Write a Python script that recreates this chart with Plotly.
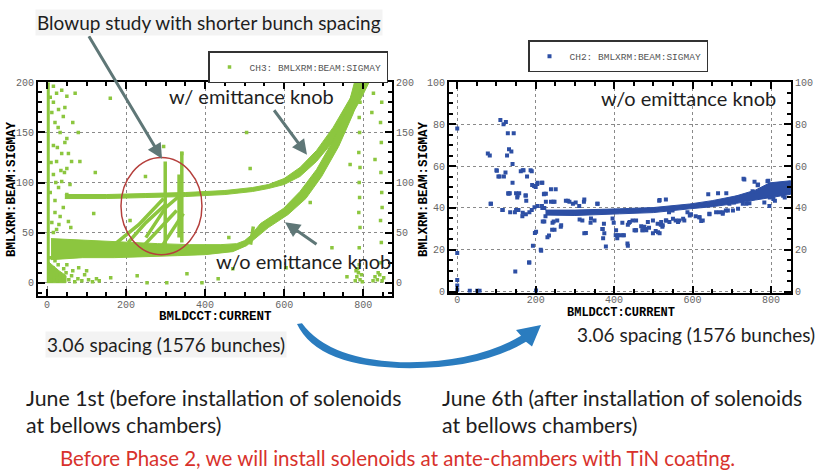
import plotly.graph_objects as go

W, H = 818, 473

GREEN = "#8cc63f"
BLUE = "#2d4fa4"
ARROW_GRAY = "#5f7777"
TEXT_DARK = "#1e1e1e"
RED_TEXT = "#d8322c"
TICK_FONT = dict(family="Liberation Mono", size=10, color="#666666")

# ---------------- tick values ----------------
L_TICKS_X = [0, 200, 400, 600, 800]
L_TICKS_Y = [0, 50, 100, 150, 200]
R_TICKS_X = [0, 200, 400, 600, 800]
R_TICKS_Y = [0, 20, 40, 60, 80, 100]

# ---------------- left panel (June 1st) ----------------
# "w/ emittance knob" band: upper edge then lower edge
UP_BAND_X = [45, 150, 250, 350, 450, 520, 560, 600, 640, 682, 724, 767, 785,
             815, 795, 762, 724, 682, 640, 600, 560, 520, 450, 350, 250, 150, 45]
UP_BAND_Y = [88, 88, 89, 90, 92, 95, 98, 104, 115, 132, 155, 184, 200,
             200, 184, 161, 141, 121, 106, 98, 94, 91, 88, 86, 85, 84, 84]

# "w/o emittance knob" band
LOW_BAND_X = [10, 60, 120, 200, 280, 360, 440, 480, 500, 515, 540, 598, 640, 682, 724, 762, 778,
              798, 775, 738, 695, 655, 610, 560, 530, 505, 470, 400, 330, 250, 170, 90, 10]
LOW_BAND_Y = [44, 43, 42, 40, 39, 38, 38, 39, 42, 47, 59, 74, 91, 113, 142, 176, 200,
              200, 169, 136, 106, 84, 68, 55, 45, 37, 31, 28, 27, 26, 25, 25, 23]

# blow-up streaks inside the circle
BLOW_X = [170, 232, 295, None, 235, 280, 328, None, 290, 345, None, 205, 250, 300, None,
          250, 300, 345, None, 515, 522]
BLOW_Y = [38, 58, 84, None, 33, 52, 72, None, 36, 69, None, 40, 60, 78, None,
          45, 75, 90, None, 38, 56]
SPIKE_X = [299, 299, None, 341, 341, None, 334, 334]
SPIKE_Y = [36, 121, None, 40, 131, None, 45, 108]

# column of points at zero current and blob at low values
ZERO_COL_X = [3, 3]
ZERO_COL_Y = [0, 200]
BLOB_X = [0, 48, 48, 30, 12, 0]
BLOB_Y = [0, 0, 7, 12, 18, 22]

L_POINTS = [
    (16, 196), (24, 189), (37, 192), (50, 186), (16, 180), (29, 173), (41, 166), (20, 160),
    (33, 150), (50, 144), (16, 137), (37, 129), (24, 121), (50, 114), (16, 108), (37, 101),
    (29, 95), (50, 88), (20, 82), (41, 75), (33, 66), (54, 61), (24, 53), (16, 50),
    (71, 189), (79, 150), (83, 121), (62, 121), (54, 129), (45, 140), (12, 170), (28, 155),
    (44, 110), (58, 98), (10, 120), (26, 135), (8, 90), (20, 70), (12, 60), (30, 58),
    (60, 55), (8, 185), (45, 175), (65, 160), (35, 112), (22, 100),
    (160, 184), (505, 150), (514, 114), (249, 106), (122, 110), (118, 69), (295, 136),
    (341, 129), (767, 118), (721, 35), (666, 80), (161, 5), (228, 7), (253, 0), (303, 0),
    (354, 9), (433, 4), (392, 0), (759, 6), (826, 189), (822, 170), (847, 180), (830, 123),
    (786, 186), (210, 62), (460, 45), (470, 14), (605, 15), (590, 100),
    (790, 35), (792, 55), (789, 70), (791, 85), (790, 100), (792, 115), (789, 130),
    (791, 150), (790, 165), (792, 180), (788, 195),
    (845, 20), (846, 40), (844, 62), (847, 90), (845, 110), (846, 140), (844, 160), (848, 75),
    (780, 2), (784, 6), (788, 10), (792, 3), (796, 8), (786, 14), (790, 18), (798, 1),
    (782, 12), (825, 2), (830, 6), (836, 3), (842, 8), (848, 2), (852, 5), (838, 10),
    (5, 2), (10, 6), (18, 3), (25, 8), (33, 2), (40, 5), (48, 10), (55, 3), (62, 7),
    (70, 1), (78, 4), (88, 2), (95, 8), (105, 3), (115, 1), (125, 4), (132, 2), (15, 15),
    (28, 18), (42, 14), (8, 25), (20, 22), (50, 18), (65, 12), (80, 15), (100, 12),
]
L_PTS_X = [p[0] for p in L_POINTS]
L_PTS_Y = [p[1] for p in L_POINTS]

# ---------------- right panel (June 6th) ----------------
R_BAND_X = [225, 300, 414, 500, 593, 650, 712, 760, 797, 850,
            850, 797, 760, 712, 650, 593, 500, 414, 300, 225]
R_BAND_Y = [39.0, 39.0, 39.6, 40.2, 41.9, 43.5, 45.8, 48.5, 52.0, 53.0,
            46.5, 45.0, 43.8, 42.2, 40.6, 39.6, 37.8, 37.2, 36.4, 36.6]

R_POINTS = [
    (0, 78), (0, 18.5), (0, 5.6), (0, 3), (0, 1), (32, 0.5), (51, 0.5), (57, 0.5),
    (78, 66), (83, 65), (85, 42), (100, 58), (108, 55), (119, 55), (110, 82), (118, 80),
    (124, 81), (129, 75.7), (144, 75.7), (132, 68), (138, 67), (127, 65), (141, 61),
    (141, 52), (130, 47), (134, 47), (123, 57), (115, 39), (147, 38), (150, 47), (158, 47),
    (162, 57.5), (169, 58), (153, 45), (166, 36), (174, 46), (176, 43.4), (178, 55),
    (187, 58), (183, 14), (148, 9.7), (191, 51), (196, 50.5), (200, 50), (204, 51.5),
    (193, 22), (198, 28), (213, 20), (201, 0.6), (217, 52), (221, 46.5), (217, 40),
    (225, 36), (230, 26), (243, 33), (245, 43), (251, 49), (255, 34), (248, 29.6),
    (264, 31), (277, 43.4), (302, 42.6), (311, 41), (323, 43), (328, 28), (319, 34),
    (340, 33), (357, 42), (370, 30), (372, 25.5), (379, 21.6), (374, 32.5), (396, 35),
    (404, 27), (408, 25.5), (421, 33), (425, 27), (434, 23), (438, 33), (447, 34),
    (455, 29.4), (472, 29.4), (477, 31), (481, 30), (489, 30.5), (506, 29), (511, 32.5),
    (519, 32), (523, 31), (532, 34), (540, 38), (515, 43.4), (532, 44), (549, 38.8),
    (557, 34), (566, 34), (579, 34), (587, 38), (596, 37), (608, 36), (617, 35.6),
    (626, 34), (643, 37), (660, 38), (677, 38), (685, 38.8), (694, 42), (706, 42.6),
    (715, 45), (728, 42), (732, 53.6), (753, 48), (766, 50.8), (783, 42.6), (791, 52.8),
    (796, 41), (101, 57.8), (105, 55), (167, 58), (190, 57.5), (205, 52), (216, 52),
    (239, 49), (222, 46.8), (226, 46.8), (154, 46), (175, 46), (131, 46.8), (86, 42),
    (116, 39), (135, 38), (150, 39), (156, 39), (167, 37.7), (175, 37), (184, 38),
    (190, 39), (197, 40.4), (205, 41), (216, 41), (222, 40), (226, 43), (239, 43),
    (248, 43), (282, 43.4), (286, 43), (295, 42), (324, 44), (358, 42), (222, 33.6),
    (218, 33.6), (246, 33.6), (265, 31.8), (242, 29.6), (234, 26.8), (201, 28.6),
    (214, 19.6), (184, 14), (324, 27.9), (371, 30), (375, 27.9), (409, 27), (414, 27),
    (405, 29.4), (435, 22), (435, 32), (312, 34.5), (341, 35), (350, 34), (399, 33),
    (422, 27), (452, 29.4), (456, 29.4), (469, 31.3), (473, 29.4), (482, 29.4),
    (499, 27.9), (512, 28.4), (516, 27.9), (440, 33.3), (456, 34), (486, 33.3),
    (499, 34), (520, 33.3), (524, 31.8), (533, 34), (541, 33.3), (550, 34.8),
    (563, 33.3), (576, 34.8), (593, 36.4), (516, 43.8), (618, 35.6), (622, 33.8),
    (643, 37.2), (669, 38), (677, 37.2), (690, 38.8), (703, 38.8), (716, 39.6),
    (737, 42), (745, 42.3), (640, 46.5), (665, 47), (686, 47), (730, 53.9), (758, 52.5),
    (767, 51.2), (793, 53), (797, 45), (806, 44.3), (810, 43.5), (831, 45.8), (835, 45),
]
R_PTS_X = [p[0] for p in R_POINTS]
R_PTS_Y = [p[1] for p in R_POINTS]


# ---------------- helpers ----------------
def axis_style(**kw):
    d = dict(showline=True, linecolor="black", linewidth=2, ticks="inside", ticklen=7,
             tickwidth=2, tickcolor="black", showgrid=True, gridcolor="#8a8a8a",
             griddash="dot", gridwidth=1, zeroline=False, tickfont=TICK_FONT,
             fixedrange=True)
    d.update(kw)
    return d


def minor(dt):
    return dict(tickmode="linear", tick0=0, dtick=dt, ticks="inside", ticklen=4,
                tickwidth=1.5, tickcolor="black", showgrid=False)


def txt(s, x, y, size=20, color=TEXT_DARK, xanchor="center", bg="rgba(0,0,0,0)",
        angle=0, family="Lato"):
    return dict(text=s, x=x / W, y=1 - y / H, xref="paper", yref="paper", xanchor=xanchor,
                yanchor="middle", showarrow=False, textangle=angle, bgcolor=bg,
                font=dict(family=family, size=size, color=color))


def arrow(tx, ty, hx, hy):
    return dict(x=hx / W, y=1 - hy / H, xref="paper", yref="paper", ax=tx - hx, ay=ty - hy,
                axref="pixel", ayref="pixel", text="", showarrow=True, arrowhead=2,
                arrowsize=1, arrowwidth=3, arrowcolor=ARROW_GRAY)


def pp(x, y):
    return f"{x / W:.5f},{1 - y / H:.5f}"


fig = go.Figure()
skip = dict(showlegend=False, hoverinfo="skip")

# left panel traces
fig.add_trace(go.Scatter(x=UP_BAND_X, y=UP_BAND_Y, mode="lines", fill="toself",
                         fillcolor=GREEN, line=dict(color=GREEN, width=1),
                         xaxis="x", yaxis="y", **skip))
fig.add_trace(go.Scatter(x=LOW_BAND_X, y=LOW_BAND_Y, mode="lines", fill="toself",
                         fillcolor=GREEN, line=dict(color=GREEN, width=1),
                         xaxis="x", yaxis="y", **skip))
fig.add_trace(go.Scatter(x=BLOW_X, y=BLOW_Y, mode="lines",
                         line=dict(color=GREEN, width=3.5), connectgaps=False,
                         xaxis="x", yaxis="y", **skip))
fig.add_trace(go.Scatter(x=SPIKE_X, y=SPIKE_Y, mode="lines", line=dict(color=GREEN, width=3.5),
                         connectgaps=False, xaxis="x", yaxis="y", **skip))
fig.add_trace(go.Scatter(x=ZERO_COL_X, y=ZERO_COL_Y, mode="lines",
                         line=dict(color=GREEN, width=3), xaxis="x", yaxis="y", **skip))
fig.add_trace(go.Scatter(x=BLOB_X, y=BLOB_Y, mode="lines", fill="toself", fillcolor=GREEN,
                         line=dict(color=GREEN, width=1), xaxis="x", yaxis="y", **skip))
fig.add_trace(go.Scatter(x=L_PTS_X, y=L_PTS_Y, mode="markers", name="CH3: BMLXRM:BEAM:SIGMAY",
                         marker=dict(color=GREEN, size=3.5, symbol="square"),
                         xaxis="x", yaxis="y3", legend="legend", hoverinfo="skip"))

# right panel traces
fig.add_trace(go.Scatter(x=R_BAND_X, y=R_BAND_Y, mode="lines", fill="toself", fillcolor=BLUE,
                         line=dict(color=BLUE, width=1), xaxis="x2", yaxis="y2", **skip))
fig.add_trace(go.Scatter(x=R_PTS_X, y=R_PTS_Y, mode="markers", name="CH2: BMLXRM:BEAM:SIGMAY",
                         marker=dict(color=BLUE, size=4, symbol="square"),
                         xaxis="x2", yaxis="y4", legend="legend2", hoverinfo="skip"))

L_DOM_X = [38 / W, 392 / W]
L_DOM_Y = [1 - 297 / H, 1 - 79 / H]
R_DOM_X = [449 / W, 791 / W]
R_DOM_Y = [1 - 294 / H, 1 - 79 / H]
L_RANGE_X, L_RANGE_Y = [-23, 873], [-13, 200]
R_RANGE_X, R_RANGE_Y = [-21, 851], [-0.5, 100]

legend_common = dict(xanchor="left", yanchor="top", bgcolor="white", bordercolor="#333333",
                     borderwidth=1.5, font=dict(family="Liberation Mono", size=9.5, color="#555555"),
                     itemclick=False, itemdoubleclick=False)

ARROW_PATH = ("M " + pp(297, 326) + " Q " + pp(318, 371) + " " + pp(410, 371)
              + " Q " + pp(482, 371) + " " + pp(526, 344)
              + " L " + pp(532, 349) + " L " + pp(541, 327) + " L " + pp(516, 332)
              + " L " + pp(521, 338) + " Q " + pp(478, 364) + " " + pp(410, 365)
              + " Q " + pp(330, 364) + " " + pp(302, 325) + " Z")

fig.update_layout(
    width=W, height=H, margin=dict(l=0, r=0, t=0, b=0),
    paper_bgcolor="white", plot_bgcolor="white",
    xaxis=axis_style(domain=L_DOM_X, range=L_RANGE_X, anchor="y", tickvals=L_TICKS_X,
                     mirror="ticks", minor=minor(50), ticklabelstandoff=-2),
    yaxis=axis_style(domain=L_DOM_Y, range=L_RANGE_Y, anchor="x", tickvals=L_TICKS_Y,
                     minor=minor(10)),
    yaxis3=axis_style(overlaying="y", side="right", anchor="x", range=L_RANGE_Y,
                      tickvals=L_TICKS_Y, showgrid=False, minor=minor(10)),
    xaxis2=axis_style(domain=R_DOM_X, range=R_RANGE_X, anchor="y2", tickvals=R_TICKS_X,
                      mirror="ticks", minor=minor(50), ticklabelstandoff=-4),
    yaxis2=axis_style(domain=R_DOM_Y, range=R_RANGE_Y, anchor="x2", tickvals=R_TICKS_Y,
                      minor=minor(5)),
    yaxis4=axis_style(overlaying="y2", side="right", anchor="x2", range=R_RANGE_Y,
                      tickvals=R_TICKS_Y, showgrid=False, minor=minor(5)),
    legend=dict(x=208 / W, y=1 - 47 / H, **legend_common),
    legend2=dict(x=528 / W, y=1 - 36 / H, **legend_common),
    shapes=[
        dict(type="circle", xref="x", yref="y", x0=187, x1=392, y0=28, y1=125,
             line=dict(color="#b5403d", width=1.5)),
        dict(type="path", xref="paper", yref="paper", path=ARROW_PATH,
             fillcolor="#2a7cbf", line=dict(width=0)),
    ],
    annotations=[
        txt("<b>BMLDCCT:CURRENT</b>", 215, 319, size=12.5, color="black", family="Liberation Mono"),
        txt("<b>BMLXRM:BEAM:SIGMAY</b>", 12, 188, size=12.5, color="black",
            family="Liberation Mono", angle=-90),
        txt("<b>BMLDCCT:CURRENT</b>", 621, 315, size=12, color="black", family="Liberation Mono"),
        txt("<b>BMLXRM:BEAM:SIGMAY</b>", 424, 188, size=12.5, color="black",
            family="Liberation Mono", angle=-90),
        arrow(88, 33, 162, 157),
        arrow(273, 107, 307, 153),
        arrow(318, 245, 285, 222),
        txt("Blowup study with shorter bunch spacing", 209, 18, size=19, bg="#f3f3f3"),
        txt("w/ emittance knob", 251, 93),
        txt("w/o emittance knob", 303, 262),
        txt("w/o emittance knob", 688, 95),
        txt("3.06 spacing (1576 bunches)", 166, 347, size=19, bg="#f3f3f3"),
        txt("3.06 spacing (1576 bunches)", 696, 337, size=19),
        txt("June 1st (before installation of solenoids", 24, 401, size=21.3, xanchor="left"),
        txt("at bellows chambers)", 24, 429, size=21.3, xanchor="left"),
        txt("June 6th (after installation of solenoids", 440, 401, size=21.3, xanchor="left"),
        txt("at bellows chambers)", 440, 429, size=21.3, xanchor="left"),
        txt("Before Phase 2, we will install solenoids at ante-chambers with TiN coating.",
            397, 463, size=20.5, color=RED_TEXT),
    ],
)

fig.write_html("out.html")
